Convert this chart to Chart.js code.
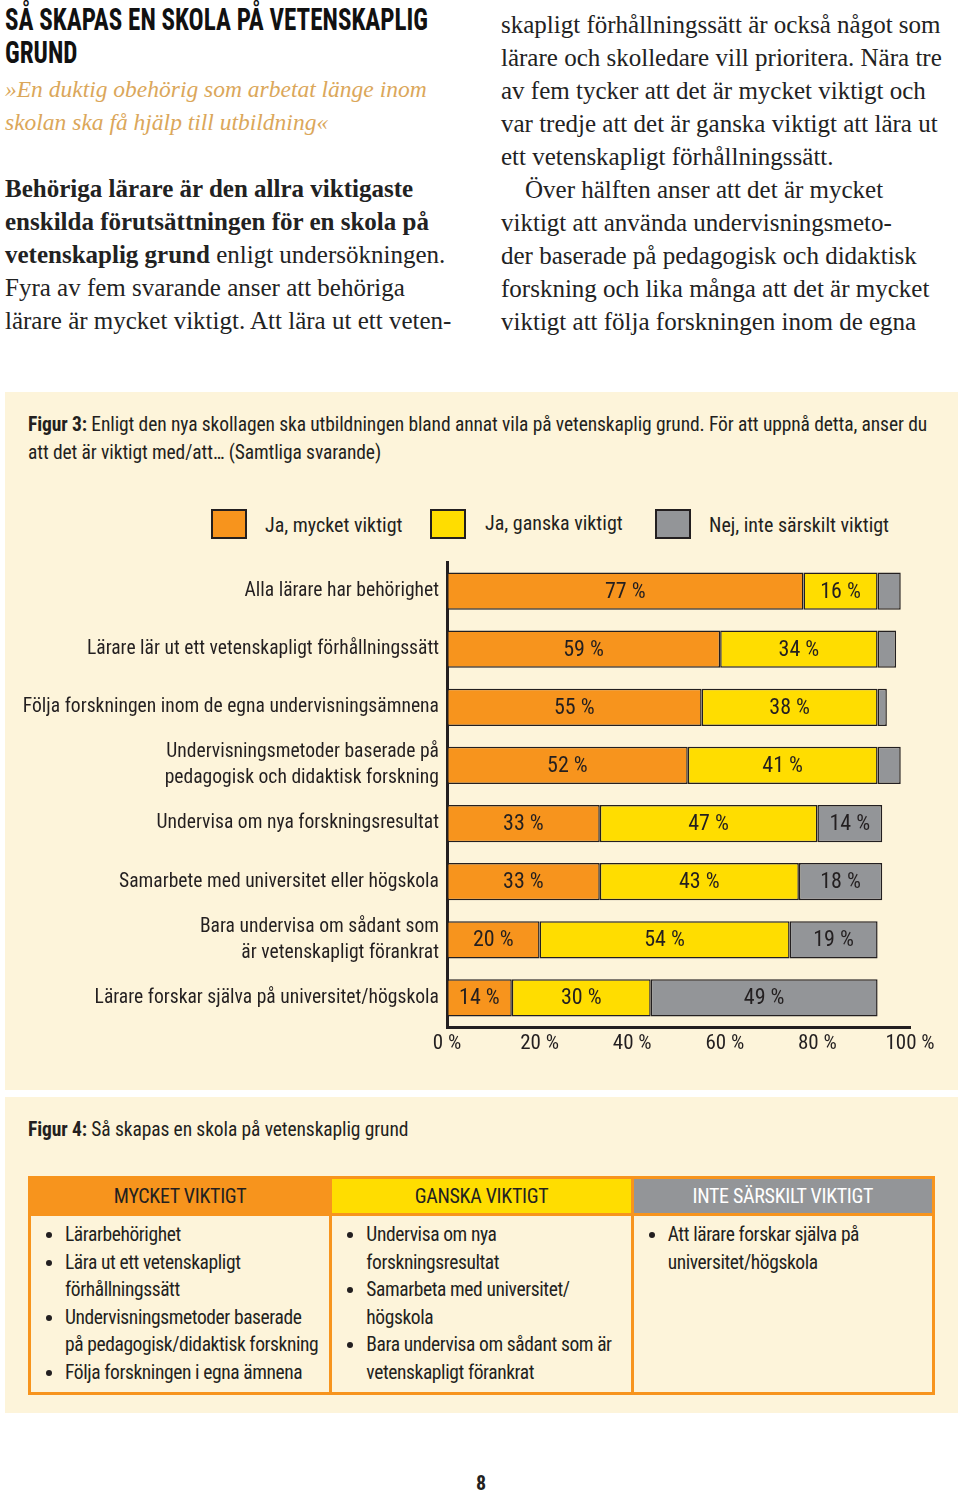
<!DOCTYPE html>
<html lang="sv">
<head>
<meta charset="utf-8">
<title>Så skapas en skola på vetenskaplig grund</title>
<script src="https://cdn.jsdelivr.net/npm/chart.js@4.4.1/dist/chart.umd.min.js"></script>
<style>
  body { margin: 0; width: 960px; height: 1496px; background: #fff; position: relative; overflow: hidden; }
  .narrow { font-family: "Roboto Condensed", "Liberation Sans Narrow", sans-serif; }
  .serif { font-family: "Liberation Serif", "DejaVu Serif", serif; }
  .abs { position: absolute; white-space: nowrap; }
  h1 { position: absolute; left: 5px; top: 3px; margin: 0; font-family: "Roboto Condensed", sans-serif;
       font-size: 31px; line-height: 33px; font-weight: bold; color: #111; transform-origin: 0 0; white-space: nowrap; }
  .quote { left: 5px; font-style: italic; color: #dba75a; font-size: 23.5px; line-height: 33px; }
  .body { font-size: 25px; line-height: 33px; color: #222; }
  .box { position: absolute; background: #fdf4da; }
  .cap { font-size: 19.5px; letter-spacing: -0.1px; color: #231f20; line-height: 28px; }
  .legend { font-size: 20px; color: #231f20; }
  .swatch { position: absolute; width: 32px; height: 26px; border: 2px solid #231f20; }
  table { position: absolute; left: 28px; top: 1176px; width: 907px; border-collapse: collapse; table-layout: fixed; }
  th { font-weight: normal; font-size: 20px; letter-spacing: -0.3px; height: 34px; padding: 0; border: 3px solid #f7941d; }
  td { vertical-align: top; border: 3px solid #f7941d; padding: 5px 4px 6px 8px; height: 165px;
       font-size: 19.5px; letter-spacing: -0.4px; line-height: 27.5px; color: #231f20; white-space: nowrap; }
  td ul { margin: 0; padding-left: 26px; }
</style>
</head>
<body>

<h1 id="rubrik">SÅ SKAPAS EN SKOLA PÅ VETENSKAPLIG<br>GRUND</h1>
<div class="abs serif quote" style="top:73px">»En duktig obehörig som arbetat länge inom</div>
<div class="abs serif quote" style="top:106px">skolan ska få hjälp till utbildning«</div>

<div class="abs serif body" style="left:5px; top:172px"><b>Behöriga lärare är den allra viktigaste</b></div>
<div class="abs serif body" style="left:5px; top:205px"><b>enskilda förutsättningen för en skola på</b></div>
<div class="abs serif body" style="left:5px; top:238px"><b>vetenskaplig grund</b> enligt undersökningen.</div>
<div class="abs serif body" style="left:5px; top:271px">Fyra av fem svarande anser att behöriga</div>
<div class="abs serif body" style="left:5px; top:304px">lärare är mycket viktigt. Att lära ut ett veten-</div>

<div class="abs serif body" style="left:501px; top:8px">skapligt förhållningssätt är också något som</div>
<div class="abs serif body" style="left:501px; top:41px">lärare och skolledare vill prioritera. Nära tre</div>
<div class="abs serif body" style="left:501px; top:74px">av fem tycker att det är mycket viktigt och</div>
<div class="abs serif body" style="left:501px; top:107px">var tredje att det är ganska viktigt att lära ut</div>
<div class="abs serif body" style="left:501px; top:140px">ett vetenskapligt förhållningssätt.</div>
<div class="abs serif body" style="left:525px; top:173px">Över hälften anser att det är mycket</div>
<div class="abs serif body" style="left:501px; top:206px">viktigt att använda undervisningsmeto-</div>
<div class="abs serif body" style="left:501px; top:239px">der baserade på pedagogisk och didaktisk</div>
<div class="abs serif body" style="left:501px; top:272px">forskning och lika många att det är mycket</div>
<div class="abs serif body" style="left:501px; top:305px">viktigt att följa forskningen inom de egna</div>

<!-- Figur 3 -->
<div class="box" style="left:5px; top:392px; width:953px; height:698px"></div>
<div class="abs narrow cap" style="left:28px; top:411px"><b>Figur 3:</b> Enligt den nya skollagen ska utbildningen bland annat vila på vetenskaplig grund. För att uppnå detta, anser du</div>
<div class="abs narrow cap" style="left:28px; top:439px">att det är viktigt med/att… (Samtliga svarande)</div>

<div class="swatch" style="left:211px; top:509px; background:#f7941d"></div>
<div class="abs narrow legend" style="left:265px; top:513px">Ja, mycket viktigt</div>
<div class="swatch" style="left:430px; top:509px; background:#ffdd00"></div>
<div class="abs narrow legend" style="left:485px; top:511px">Ja, ganska viktigt</div>
<div class="swatch" style="left:655px; top:509px; background:#939598"></div>
<div class="abs narrow legend" style="left:709px; top:513px">Nej, inte särskilt viktigt</div>

<div style="position:absolute; left:0; top:541px; width:960px; height:524px">
  <canvas id="chart"></canvas>
</div>

<!-- Figur 4 -->
<div class="box" style="left:5px; top:1097px; width:953px; height:316px"></div>
<div class="abs narrow cap" style="left:28px; top:1116px"><b>Figur 4:</b> Så skapas en skola på vetenskaplig grund</div>
<table class="narrow">
  <tr>
    <th style="background:#f7941d; color:#231f20">MYCKET VIKTIGT</th>
    <th style="background:#ffdd00; color:#231f20">GANSKA VIKTIGT</th>
    <th style="background:#939598; color:#fff">INTE SÄRSKILT VIKTIGT</th>
  </tr>
  <tr>
    <td><ul>
      <li>Lärarbehörighet</li>
      <li>Lära ut ett vetenskapligt<br>förhållningssätt</li>
      <li>Undervisningsmetoder baserade<br>på pedagogisk/didaktisk forskning</li>
      <li>Följa forskningen i egna ämnena</li>
    </ul></td>
    <td><ul>
      <li>Undervisa om nya<br>forskningsresultat</li>
      <li>Samarbeta med universitet/<br>högskola</li>
      <li>Bara undervisa om sådant som är<br>vetenskapligt förankrat</li>
    </ul></td>
    <td><ul>
      <li>Att lärare forskar själva på<br>universitet/högskola</li>
    </ul></td>
  </tr>
</table>

<div class="abs narrow" style="left:476px; top:1471px; font-size:20px; font-weight:bold; color:#231f20">8</div>

<script>
// Kategorier (y-axel)
const categories = [
  "Alla lärare har behörighet",
  "Lärare lär ut ett vetenskapligt förhållningssätt",
  "Följa forskningen inom de egna undervisningsämnena",
  ["Undervisningsmetoder baserade på", "pedagogisk och didaktisk forskning"],
  "Undervisa om nya forskningsresultat",
  "Samarbete med universitet eller högskola",
  ["Bara undervisa om sådant som", "är vetenskapligt förankrat"],
  "Lärare forskar själva på universitet/högskola"
];

// Andel svarande i procent
const mycketViktigt = [77, 59, 55, 52, 33, 33, 20, 14];
const ganskaViktigt = [16, 34, 38, 41, 47, 43, 54, 30];
const inteViktigt   = [5, 4, 2, 5, 14, 18, 19, 49];

const xTicks = [0, 20, 40, 60, 80, 100];

const FONT = '"Roboto Condensed", sans-serif';
const INK = '#231f20';

// rubriken är smalare i originalet
const rubrik = document.getElementById('rubrik');
rubrik.style.transform = 'scaleX(' + (423 / rubrik.getBoundingClientRect().width) + ')';

// skriver procenttalen mitt i staplarna (de små grå lämnas tomma)
const valueLabels = {
  id: 'valueLabels',
  afterDatasetsDraw(chart) {
    const ctx = chart.ctx;
    ctx.save();
    ctx.font = '22px ' + FONT;
    ctx.fillStyle = INK;
    ctx.textAlign = 'center';
    ctx.textBaseline = 'middle';
    chart.data.datasets.forEach((ds, i) => {
      chart.getDatasetMeta(i).data.forEach((bar, j) => {
        const v = ds.data[j];
        if (v < 10) return;
        const p = bar.getCenterPoint();
        ctx.fillText(v + ' %', p.x, p.y + 1);
      });
    });
    ctx.restore();
  }
};

const common = { borderColor: INK, borderWidth: 1.5, borderSkipped: false,
                 barPercentage: 0.64, categoryPercentage: 1 };

new Chart(document.getElementById('chart'), {
  type: 'bar',
  data: {
    labels: categories,
    datasets: [
      { label: 'Ja, mycket viktigt', data: mycketViktigt, backgroundColor: '#f7941d', ...common },
      { label: 'Ja, ganska viktigt', data: ganskaViktigt, backgroundColor: '#ffdd00', ...common },
      { label: 'Nej, inte särskilt viktigt', data: inteViktigt, backgroundColor: '#939598', ...common }
    ]
  },
  options: {
    indexAxis: 'y',
    responsive: true,
    maintainAspectRatio: false,
    animation: false,
    layout: { padding: { top: 8, right: 50, left: 0, bottom: 0 } },
    plugins: { legend: { display: false }, tooltip: { enabled: false } },
    scales: {
      x: {
        stacked: true, min: 0, max: 100,
        afterBuildTicks: s => { s.ticks = xTicks.map(v => ({ value: v })); },
        afterFit: s => { s.height = 38; },
        grid: { display: false, drawTicks: false },
        border: { display: true, color: INK, width: 3 },
        ticks: { padding: 4, color: INK, font: { family: FONT, size: 21 }, callback: v => v + ' %' }
      },
      y: {
        stacked: true,
        afterFit: s => { s.width = 447; },
        grid: { display: false, drawTicks: false },
        border: { display: true, color: INK, width: 3 },
        ticks: { padding: 8, color: INK, font: { family: FONT, size: 19.6, lineHeight: 1.33 } }
      }
    }
  },
  plugins: [valueLabels]
});
</script>
</body>
</html>
